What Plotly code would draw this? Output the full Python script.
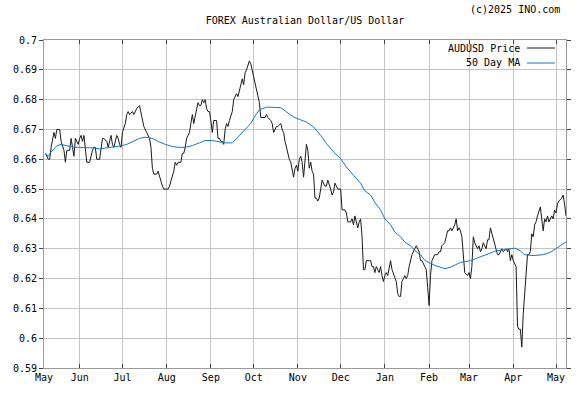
import plotly.graph_objects as go

price_dates = [
    "2024-05-08", "2024-05-09", "2024-05-10", "2024-05-11", "2024-05-12", "2024-05-14", "2024-05-15", "2024-05-16",
    "2024-05-18", "2024-05-19", "2024-05-20", "2024-05-21", "2024-05-22", "2024-05-23", "2024-05-25", "2024-05-26",
    "2024-05-27", "2024-05-28", "2024-05-29", "2024-05-31", "2024-06-01", "2024-06-02", "2024-06-03", "2024-06-04",
    "2024-06-06", "2024-06-07", "2024-06-08", "2024-06-10", "2024-06-11", "2024-06-12", "2024-06-13", "2024-06-15",
    "2024-06-16", "2024-06-17", "2024-06-18", "2024-06-20", "2024-06-21", "2024-06-22", "2024-06-23", "2024-06-24",
    "2024-06-25", "2024-06-27", "2024-06-28", "2024-06-29", "2024-06-30", "2024-07-01", "2024-07-03", "2024-07-04",
    "2024-07-05", "2024-07-06", "2024-07-08", "2024-07-09", "2024-07-10", "2024-07-11", "2024-07-13", "2024-07-14",
    "2024-07-15", "2024-07-16", "2024-07-18", "2024-07-19", "2024-07-20", "2024-07-21", "2024-07-22", "2024-07-23",
    "2024-07-25", "2024-07-26", "2024-07-27", "2024-07-28", "2024-07-29", "2024-07-30", "2024-08-01", "2024-08-02",
    "2024-08-03", "2024-08-05", "2024-08-06", "2024-08-07", "2024-08-08", "2024-08-09", "2024-08-11", "2024-08-12",
    "2024-08-13", "2024-08-14", "2024-08-15", "2024-08-16", "2024-08-17", "2024-08-18", "2024-08-19", "2024-08-20",
    "2024-08-22", "2024-08-23", "2024-08-24", "2024-08-25", "2024-08-26", "2024-08-27", "2024-08-28", "2024-08-29",
    "2024-08-30", "2024-08-31", "2024-09-01", "2024-09-02", "2024-09-03", "2024-09-05", "2024-09-06", "2024-09-07",
    "2024-09-08", "2024-09-09", "2024-09-10", "2024-09-11", "2024-09-12", "2024-09-13", "2024-09-14", "2024-09-15",
    "2024-09-16", "2024-09-17", "2024-09-19", "2024-09-20", "2024-09-21", "2024-09-22", "2024-09-23", "2024-09-24",
    "2024-09-25", "2024-09-26", "2024-09-27", "2024-09-28", "2024-09-29", "2024-09-30", "2024-10-02", "2024-10-04",
    "2024-10-05", "2024-10-06", "2024-10-07", "2024-10-09", "2024-10-10", "2024-10-11", "2024-10-13", "2024-10-14",
    "2024-10-15", "2024-10-16", "2024-10-17", "2024-10-18", "2024-10-20", "2024-10-21", "2024-10-22", "2024-10-23",
    "2024-10-24", "2024-10-25", "2024-10-26", "2024-10-27", "2024-10-28", "2024-10-29", "2024-10-30", "2024-10-31",
    "2024-11-01", "2024-11-02", "2024-11-03", "2024-11-04", "2024-11-05", "2024-11-06", "2024-11-07", "2024-11-08",
    "2024-11-09", "2024-11-10", "2024-11-11", "2024-11-12", "2024-11-13", "2024-11-14", "2024-11-15", "2024-11-16",
    "2024-11-17", "2024-11-18", "2024-11-19", "2024-11-20", "2024-11-21", "2024-11-22", "2024-11-24", "2024-11-25",
    "2024-11-26", "2024-11-27", "2024-11-28", "2024-11-29", "2024-12-01", "2024-12-02", "2024-12-03", "2024-12-04",
    "2024-12-05", "2024-12-06", "2024-12-08", "2024-12-09", "2024-12-10", "2024-12-11", "2024-12-12", "2024-12-13",
    "2024-12-14", "2024-12-15", "2024-12-16", "2024-12-17", "2024-12-18", "2024-12-19", "2024-12-21", "2024-12-22",
    "2024-12-23", "2024-12-24", "2024-12-25", "2024-12-26", "2024-12-28", "2024-12-29", "2024-12-30", "2024-12-31",
    "2025-01-01", "2025-01-02", "2025-01-03", "2025-01-04", "2025-01-05", "2025-01-06", "2025-01-08", "2025-01-09",
    "2025-01-10", "2025-01-11", "2025-01-12", "2025-01-13", "2025-01-14", "2025-01-15", "2025-01-16", "2025-01-17",
    "2025-01-18", "2025-01-19", "2025-01-20", "2025-01-22", "2025-01-23", "2025-01-24", "2025-01-25", "2025-01-26",
    "2025-01-27", "2025-01-29", "2025-01-30", "2025-01-31", "2025-02-01", "2025-02-02", "2025-02-03", "2025-02-05",
    "2025-02-06", "2025-02-07", "2025-02-08", "2025-02-09", "2025-02-10", "2025-02-12", "2025-02-13", "2025-02-14",
    "2025-02-15", "2025-02-16", "2025-02-17", "2025-02-19", "2025-02-20", "2025-02-21", "2025-02-22", "2025-02-23",
    "2025-02-24", "2025-02-25", "2025-02-26", "2025-02-28", "2025-03-01", "2025-03-02", "2025-03-03", "2025-03-04",
    "2025-03-05", "2025-03-07", "2025-03-08", "2025-03-09", "2025-03-10", "2025-03-11", "2025-03-13", "2025-03-14",
    "2025-03-15", "2025-03-16", "2025-03-17", "2025-03-18", "2025-03-20", "2025-03-21", "2025-03-22", "2025-03-23",
    "2025-03-24", "2025-03-25", "2025-03-27", "2025-03-28", "2025-03-29", "2025-03-30", "2025-03-31", "2025-04-01",
    "2025-04-03", "2025-04-04", "2025-04-05", "2025-04-06", "2025-04-07", "2025-04-08", "2025-04-10", "2025-04-11",
    "2025-04-12", "2025-04-13", "2025-04-14", "2025-04-15", "2025-04-16", "2025-04-17", "2025-04-18", "2025-04-20",
    "2025-04-21", "2025-04-22", "2025-04-23", "2025-04-24", "2025-04-25", "2025-04-26", "2025-04-28", "2025-04-29",
    "2025-04-30", "2025-05-01", "2025-05-02", "2025-05-03", "2025-05-05", "2025-05-06", "2025-05-07", "2025-05-08",
]

price_values = [
    0.662, 0.661, 0.660, 0.660, 0.664, 0.669, 0.667, 0.670,
    0.670, 0.666, 0.664, 0.663, 0.659, 0.663, 0.663, 0.667,
    0.664, 0.661, 0.667, 0.665, 0.667, 0.668, 0.666, 0.668,
    0.659, 0.659, 0.659, 0.663, 0.664, 0.664, 0.660, 0.660,
    0.664, 0.667, 0.667, 0.666, 0.664, 0.666, 0.668, 0.665,
    0.664, 0.668, 0.667, 0.665, 0.664, 0.669, 0.672, 0.675,
    0.676, 0.675, 0.676, 0.675, 0.676, 0.677, 0.678, 0.676,
    0.673, 0.671, 0.669, 0.668, 0.667, 0.664, 0.657, 0.655,
    0.655, 0.656, 0.654, 0.653, 0.651, 0.650, 0.650, 0.650,
    0.651, 0.654, 0.656, 0.659, 0.658, 0.659, 0.659, 0.662,
    0.662, 0.664, 0.667, 0.668, 0.669, 0.672, 0.675, 0.672,
    0.677, 0.679, 0.678, 0.678, 0.680, 0.679, 0.680, 0.677,
    0.676, 0.676, 0.673, 0.669, 0.673, 0.673, 0.667, 0.667,
    0.666, 0.666, 0.665, 0.670, 0.672, 0.671, 0.673, 0.675,
    0.676, 0.680, 0.682, 0.681, 0.683, 0.684, 0.687, 0.685,
    0.689, 0.690, 0.692, 0.693, 0.692, 0.690, 0.686, 0.681,
    0.679, 0.674, 0.674, 0.674, 0.675, 0.674, 0.673, 0.672,
    0.669, 0.670, 0.671, 0.671, 0.672, 0.670, 0.669, 0.666,
    0.664, 0.661, 0.660, 0.659, 0.656, 0.654, 0.657, 0.658,
    0.656, 0.660, 0.661, 0.659, 0.654, 0.661, 0.665, 0.663,
    0.657, 0.659, 0.656, 0.655, 0.647, 0.647, 0.646, 0.647,
    0.651, 0.653, 0.652, 0.651, 0.651, 0.653, 0.650, 0.648,
    0.649, 0.652, 0.651, 0.650, 0.650, 0.643, 0.643, 0.643,
    0.642, 0.639, 0.639, 0.640, 0.638, 0.641, 0.639, 0.637,
    0.639, 0.640, 0.634, 0.623, 0.623, 0.626, 0.626, 0.626,
    0.624, 0.624, 0.622, 0.624, 0.622, 0.624, 0.621, 0.619,
    0.621, 0.622, 0.621, 0.623, 0.626, 0.623, 0.620, 0.619,
    0.615, 0.614, 0.614, 0.619, 0.620, 0.621, 0.620, 0.621,
    0.624, 0.626, 0.628, 0.630, 0.631, 0.630, 0.629, 0.626,
    0.626, 0.624, 0.623, 0.617, 0.611, 0.621, 0.626, 0.628,
    0.628, 0.628, 0.629, 0.629, 0.631, 0.632, 0.634, 0.636,
    0.636, 0.637, 0.636, 0.638, 0.640, 0.636, 0.637, 0.636,
    0.634, 0.628, 0.622, 0.621, 0.622, 0.620, 0.624, 0.634,
    0.632, 0.630, 0.631, 0.629, 0.630, 0.632, 0.630, 0.633,
    0.633, 0.637, 0.635, 0.633, 0.629, 0.628, 0.628, 0.629,
    0.630, 0.629, 0.630, 0.629, 0.630, 0.626, 0.628, 0.626,
    0.624, 0.604, 0.603, 0.603, 0.597, 0.608, 0.620, 0.628,
    0.628, 0.629, 0.635, 0.634, 0.638, 0.639, 0.641, 0.644,
    0.640, 0.636, 0.640, 0.639, 0.641, 0.639, 0.641, 0.640,
    0.643, 0.642, 0.645, 0.646, 0.647, 0.648, 0.645, 0.641,
]

ma_dates = [
    "2024-05-08", "2024-05-10", "2024-05-12", "2024-05-16", "2024-05-19", "2024-05-23", "2024-05-28", "2024-06-01",
    "2024-06-06", "2024-06-11", "2024-06-15", "2024-06-20", "2024-06-25", "2024-06-30", "2024-07-04", "2024-07-09",
    "2024-07-13", "2024-07-17", "2024-07-22", "2024-07-26", "2024-07-31", "2024-08-05", "2024-08-09", "2024-08-14",
    "2024-08-19", "2024-08-24", "2024-08-28", "2024-09-02", "2024-09-06", "2024-09-11", "2024-09-16", "2024-09-18",
    "2024-09-20", "2024-09-25", "2024-09-29", "2024-10-02", "2024-10-05", "2024-10-10", "2024-10-15", "2024-10-20",
    "2024-10-24", "2024-10-29", "2024-11-03", "2024-11-07", "2024-11-12", "2024-11-17", "2024-11-21", "2024-11-26",
    "2024-12-01", "2024-12-05", "2024-12-10", "2024-12-15", "2024-12-18", "2024-12-22", "2024-12-25", "2024-12-29",
    "2025-01-01", "2025-01-05", "2025-01-08", "2025-01-12", "2025-01-15", "2025-01-19", "2025-01-22", "2025-01-26",
    "2025-01-29", "2025-02-02", "2025-02-05", "2025-02-09", "2025-02-12", "2025-02-16", "2025-02-19", "2025-02-23",
    "2025-03-02", "2025-03-09", "2025-03-16", "2025-03-20", "2025-03-25", "2025-03-30", "2025-04-02", "2025-04-06",
    "2025-04-09", "2025-04-15", "2025-04-22", "2025-04-27", "2025-05-02", "2025-05-06", "2025-05-08",
]

ma_values = [
    0.6620, 0.6610, 0.6625, 0.6645, 0.6650, 0.6645, 0.6640, 0.6640,
    0.6640, 0.6638, 0.6635, 0.6638, 0.6640, 0.6645, 0.6650, 0.6660,
    0.6670, 0.6674, 0.6670, 0.6660, 0.6650, 0.6643, 0.6640, 0.6640,
    0.6646, 0.6655, 0.6663, 0.6663, 0.6660, 0.6655, 0.6655, 0.6663,
    0.6674, 0.6700, 0.6720, 0.6745, 0.6766, 0.6775, 0.6775, 0.6773,
    0.6759, 0.6742, 0.6732, 0.6725, 0.6708, 0.6680, 0.6653, 0.6625,
    0.6602, 0.6574, 0.6546, 0.6520, 0.6494, 0.6480, 0.6455, 0.6430,
    0.6400, 0.6380, 0.6356, 0.6340, 0.6322, 0.6310, 0.6294, 0.6280,
    0.6261, 0.6252, 0.6244, 0.6238, 0.6233, 0.6238, 0.6244, 0.6254,
    0.6260, 0.6273, 0.6288, 0.6293, 0.6296, 0.6299, 0.6302, 0.6293,
    0.6280, 0.6277, 0.6280, 0.6288, 0.6304, 0.6316, 0.6323,
]

month_tick_dates = ["2024-05-07", "2024-06-01", "2024-07-01", "2024-08-01", "2024-09-01", "2024-10-01",
                    "2024-11-01", "2024-12-01", "2025-01-01", "2025-02-01", "2025-03-01", "2025-04-01",
                    "2025-05-01"]
month_tick_labels = ["May", "Jun", "Jul", "Aug", "Sep", "Oct", "Nov", "Dec", "Jan", "Feb", "Mar", "Apr", "May"]

y_tick_values = [0.59, 0.60, 0.61, 0.62, 0.63, 0.64, 0.65, 0.66, 0.67, 0.68, 0.69, 0.70]
y_tick_labels = ["0.59", "0.6", "0.61", "0.62", "0.63", "0.64", "0.65", "0.66", "0.67", "0.68", "0.69", "0.7"]

title_text = "FOREX Australian Dollar/US Dollar"
credit_text = "(c)2025 INO.com"
price_name = "AUDUSD Price"
ma_name = "50 Day MA"

FONT = "DejaVu Sans Mono"
PRICE_COLOR = "#1a1a1a"
MA_COLOR = "#1479c4"
GRID = "#c4c4c4"

W, H = 585, 394
ML, MR, MT, MB = 44, 19, 40, 26
PW, PH = W - ML - MR, H - MT - MB


def px_x(x):
    return (x - ML) / PW


def px_y(y):
    return (H - MB - y) / PH


fig = go.Figure()
fig.add_trace(go.Scatter(x=price_dates, y=price_values, mode="lines", name=price_name,
                         line=dict(color=PRICE_COLOR, width=1), showlegend=False))
fig.add_trace(go.Scatter(x=ma_dates, y=ma_values, mode="lines", name=ma_name,
                         line=dict(color=MA_COLOR, width=1), showlegend=False))

legend_rows = [(price_name, PRICE_COLOR, 48), (ma_name, MA_COLOR, 63)]
annotations = []
shapes = [dict(type="rect", xref="paper", yref="paper", x0=px_x(446), x1=px_x(561),
               y0=px_y(68), y1=px_y(41), fillcolor="white", line=dict(width=0), layer="below")]
for name, color, ypix in legend_rows:
    annotations.append(dict(text=name, x=px_x(522), y=px_y(ypix), xref="paper", yref="paper",
                            xanchor="right", yanchor="middle", showarrow=False,
                            font=dict(family=FONT, size=10, color="black")))
    shapes.append(dict(type="line", xref="paper", yref="paper", x0=px_x(527), x1=px_x(555),
                       y0=px_y(ypix), y1=px_y(ypix), line=dict(color=color, width=1)))
annotations.append(dict(text=credit_text, x=px_x(562), y=px_y(9), xref="paper", yref="paper",
                        xanchor="right", yanchor="middle", showarrow=False,
                        font=dict(family=FONT, size=10, color="black")))

fig.update_layout(
    width=W, height=H,
    margin=dict(l=ML, r=MR, t=MT, b=MB, pad=0),
    paper_bgcolor="white", plot_bgcolor="white",
    title=dict(text=title_text, x=0.5, xref="paper", xanchor="center",
               y=1 - 20 / H, yanchor="middle",
               font=dict(family=FONT, size=10, color="black")),
    font=dict(family=FONT, size=10, color="black"),
    xaxis=dict(type="date", range=["2024-05-07", "2025-05-08"],
               tickmode="array", tickvals=month_tick_dates, ticktext=month_tick_labels,
               showgrid=True, gridcolor=GRID, gridwidth=1,
               showline=True, linecolor="#9a9a9a", linewidth=1, mirror="ticks",
               ticks="inside", ticklen=4, tickcolor="#444444",
               tickfont=dict(family=FONT, size=10, color="black"), zeroline=False),
    yaxis=dict(range=[0.59, 0.70], tickmode="array", tickvals=y_tick_values, ticktext=y_tick_labels,
               showgrid=True, gridcolor=GRID, gridwidth=1,
               showline=True, linecolor="#9a9a9a", linewidth=1, mirror="ticks",
               ticks="outside", ticklen=4, tickcolor="#444444",
               tickfont=dict(family=FONT, size=10, color="black"), zeroline=False),
    annotations=annotations,
    shapes=shapes,
    showlegend=False,
)

fig.write_html("out.html")
